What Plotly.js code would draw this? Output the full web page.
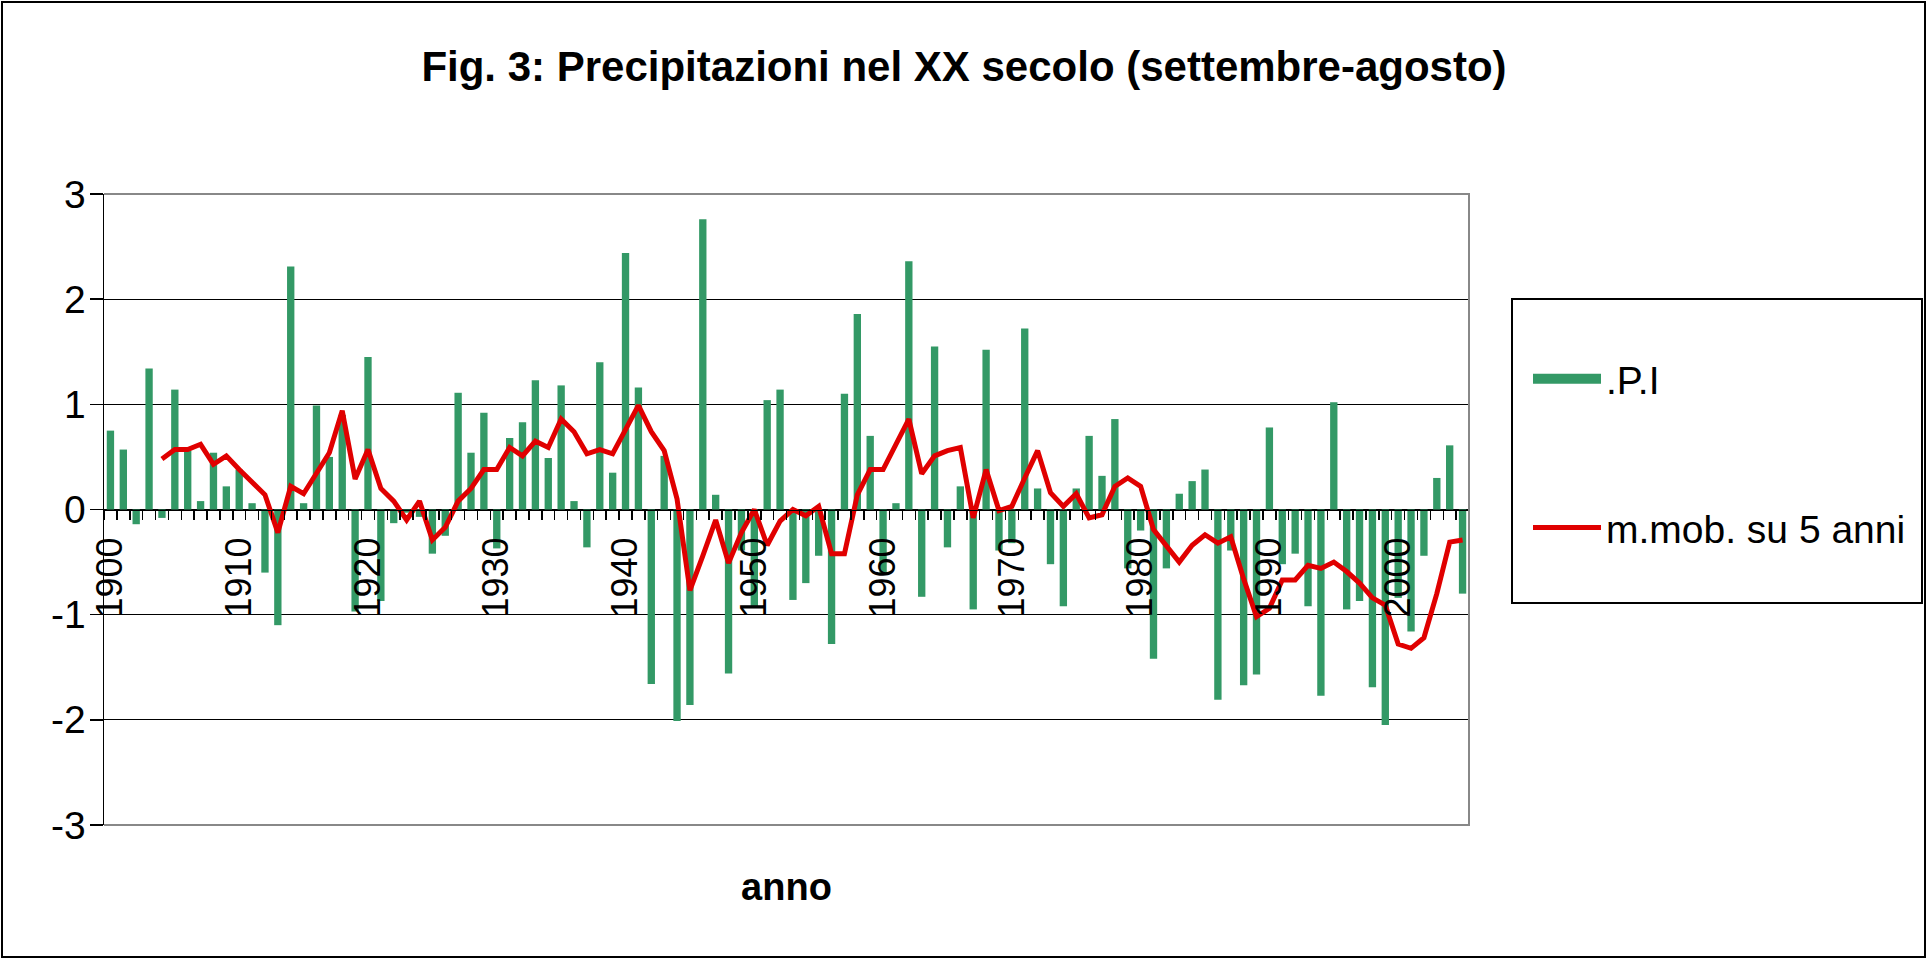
<!DOCTYPE html>
<html>
<head>
<meta charset="utf-8">
<script src="https://cdn.plot.ly/plotly-3.0.1.min.js"></script>
<style>
  html, body { margin: 0; padding: 0; background: #fff; }
  #wrap { position: relative; width: 1928px; height: 958px; }
  #chart { width: 1928px; height: 958px; }
  #frame { position: absolute; left: 1px; top: 1px; width: 1921px; height: 953px; border: 2px solid #000; pointer-events: none; }
</style>
</head>
<body>
<div id="wrap"><div id="chart"></div><div id="frame"></div></div>
<script>
// Anni (categorie)
const years = [
  1900,1901,1902,1903,1904,1905,1906,1907,1908,1909,
  1910,1911,1912,1913,1914,1915,1916,1917,1918,1919,
  1920,1921,1922,1923,1924,1925,1926,1927,1928,1929,
  1930,1931,1932,1933,1934,1935,1936,1937,1938,1939,
  1940,1941,1942,1943,1944,1945,1946,1947,1948,1949,
  1950,1951,1952,1953,1954,1955,1956,1957,1958,1959,
  1960,1961,1962,1963,1964,1965,1966,1967,1968,1969,
  1970,1971,1972,1973,1974,1975,1976,1977,1978,1979,
  1980,1981,1982,1983,1984,1985,1986,1987,1988,1989,
  1990,1991,1992,1993,1994,1995,1996,1997,1998,1999,
  2000,2001,2002,2003,2004,2005
];
// Indice di precipitazione (.P.I)
const piValues = [
  0.75, 0.57,-0.14, 1.34,-0.08, 1.14, 0.56, 0.08, 0.54, 0.22,
  0.38, 0.06,-0.60,-1.10, 2.31, 0.06, 0.99, 0.50, 0.90,-0.97,
  1.45,-0.87,-0.13,-0.03,-0.07,-0.42,-0.25, 1.11, 0.54, 0.92,
 -0.37, 0.68, 0.83, 1.23, 0.49, 1.18, 0.08,-0.36, 1.40, 0.35,
  2.44, 1.16,-1.66, 0.51,-2.01,-1.86, 2.76, 0.14,-1.56,-0.39,
 -0.92, 1.04, 1.14,-0.86,-0.70,-0.44,-1.28, 1.10, 1.86, 0.70,
 -0.62, 0.06, 2.36,-0.83, 1.55,-0.36, 0.22,-0.95, 1.52,-0.39,
 -0.32, 1.72, 0.20,-0.52,-0.92, 0.20, 0.70, 0.32, 0.86,-0.56,
 -0.20,-1.42,-0.56, 0.15, 0.27, 0.38,-1.81,-0.39,-1.67,-1.57,
  0.78,-0.52,-0.42,-0.92,-1.77, 1.02,-0.95,-0.87,-1.69,-2.05,
 -0.84,-1.16,-0.44, 0.30, 0.61,-0.80
];
// Media mobile su 5 anni
const maYears = [
  1904,1905,1906,1907,1908,1909,
  1910,1911,1912,1913,1914,1915,1916,1917,1918,1919,
  1920,1921,1922,1923,1924,1925,1926,1927,1928,1929,
  1930,1931,1932,1933,1934,1935,1936,1937,1938,1939,
  1940,1941,1942,1943,1944,1945,1946,1947,1948,1949,
  1950,1951,1952,1953,1954,1955,1956,1957,1958,1959,
  1960,1961,1962,1963,1964,1965,1966,1967,1968,1969,
  1970,1971,1972,1973,1974,1975,1976,1977,1978,1979,
  1980,1981,1982,1983,1984,1985,1986,1987,1988,1989,
  1990,1991,1992,1993,1994,1995,1996,1997,1998,1999,
  2000,2001,2002,2003,2004,2005
];
const maValues = [
  0.48, 0.57, 0.57, 0.62, 0.43, 0.51,
  0.38, 0.26, 0.14,-0.22, 0.22, 0.15, 0.35, 0.54, 0.94, 0.29,
  0.57, 0.20, 0.08,-0.10, 0.08,-0.29,-0.17, 0.08, 0.20, 0.38,
  0.38, 0.59, 0.51, 0.65, 0.59, 0.86, 0.74, 0.53, 0.57, 0.53,
  0.76, 0.99, 0.74, 0.56, 0.10,-0.77,-0.44,-0.10,-0.51,-0.22,
  0.00,-0.34,-0.11, 0.00,-0.06, 0.03,-0.42,-0.42, 0.14, 0.38,
  0.38, 0.62, 0.86, 0.34, 0.51, 0.56, 0.59,-0.08, 0.38,-0.01,
  0.03, 0.30, 0.56, 0.16, 0.03, 0.15,-0.08,-0.05, 0.22, 0.30,
  0.22,-0.19,-0.35,-0.50,-0.34,-0.24,-0.32,-0.26,-0.66,-1.02,
 -0.94,-0.67,-0.67,-0.53,-0.56,-0.50,-0.59,-0.70,-0.84,-0.91,
 -1.28,-1.32,-1.22,-0.80,-0.31,-0.29
];
// Etichette asse Y
const yTickVals = [-3, -2, -1, 0, 1, 2, 3];
const yTickText = ['-3', '-2', '-1', '0', '1', '2', '3'];
const seriesNames = ['.P.I', 'm.mob. su 5 anni'];
const titleText = 'Fig. 3: Precipitazioni nel XX secolo (settembre-agosto)';
const xTitle = 'anno';

const FONT = '"Liberation Sans", Arial, Helvetica, sans-serif';
const W = 1928, H = 958;
const M = { l: 104, r: 459, t: 194, b: 133 };
const plotH = H - M.t - M.b;
const plotW = W - M.l - M.r;
const px2paperX = p => (p - M.l) / plotW;
const px2paperY = p => (H - M.b - p) / plotH;
const GREEN = '#339966', RED = '#e00000';

const traces = [
  {
    type: 'bar', x: years, y: piValues, name: seriesNames[0],
    marker: { color: GREEN, line: { width: 0 } },
    showlegend: false, hoverinfo: 'x+y'
  },
  {
    type: 'scatter', mode: 'lines', x: maYears, y: maValues, name: seriesNames[1],
    line: { color: RED, width: 5 },
    legendgroup: 'b', legendrank: 2, hoverinfo: 'x+y'
  },
  // voce di legenda per le barre (campione rettangolare)
  {
    type: 'scatter', mode: 'lines', x: [null], y: [null], name: seriesNames[0],
    line: { color: GREEN, width: 25 },
    legendgroup: 'a', legendrank: 1, hoverinfo: 'skip'
  }
];

const layout = {
  width: W, height: H,
  margin: M,
  paper_bgcolor: '#fff', plot_bgcolor: '#fff',
  font: { family: FONT, color: '#000', size: 38 },
  title: {
    text: titleText, x: 0.5, xref: 'container', xanchor: 'center',
    y: 1 - 66 / H, yref: 'container', yanchor: 'middle',
    font: { family: FONT, size: 42, weight: 700, color: '#000' }
  },
  bargap: 0.43,
  showlegend: true,
  legend: {
    x: px2paperX(1528), xanchor: 'left',
    y: px2paperY(347), yanchor: 'top',
    bgcolor: 'rgba(0,0,0,0)', borderwidth: 0,
    font: { family: FONT, size: 39, color: '#000' },
    traceorder: 'grouped', tracegroupgap: 95, itemwidth: 68
  },
  xaxis: {
    type: 'linear', range: [1899.5, 2005.5],
    anchor: 'free', position: px2paperY(H - M.b - plotH / 2),
    showline: true, linecolor: '#000', linewidth: 1.5,
    showgrid: false, zeroline: false,
    tick0: 1900, dtick: 10, ticks: '', tickangle: -90,
    ticklabelstandoff: 12,
    tickfont: { family: FONT, size: 36, color: '#000' },
    minor: { ticks: 'outside', ticklen: 9, tickwidth: 1.5, tickcolor: '#000', tick0: 1899.5, dtick: 1, showgrid: false },
    title: { text: '<b>' + xTitle + '</b>', font: { family: FONT, size: 38, color: '#000' }, standoff: 257 },
    automargin: false, fixedrange: true
  },
  yaxis: {
    range: [-3, 3], tickmode: 'array', tickvals: yTickVals, ticktext: yTickText,
    showline: true, linecolor: '#000', linewidth: 1.5,
    showgrid: true, gridcolor: '#000', gridwidth: 1,
    zeroline: false,
    ticks: 'outside', ticklen: 13, tickwidth: 1.5, tickcolor: '#000',
    ticklabelstandoff: -4,
    tickfont: { family: FONT, size: 39, color: '#000' },
    automargin: false, fixedrange: true
  },
  shapes: [
    { type: 'path', xref: 'paper', yref: 'paper', path: 'M0,1 L1,1 L1,0 L0,0',
      line: { color: '#888', width: 2 }, layer: 'above' },
    { type: 'rect', xref: 'paper', yref: 'paper',
      x0: px2paperX(1512), x1: px2paperX(1922), y0: px2paperY(603), y1: px2paperY(299),
      line: { color: '#000', width: 2 }, fillcolor: 'rgba(0,0,0,0)', layer: 'above' }
  ]
};

Plotly.newPlot('chart', traces, layout, { displayModeBar: false, staticPlot: true });
</script>
</body>
</html>
